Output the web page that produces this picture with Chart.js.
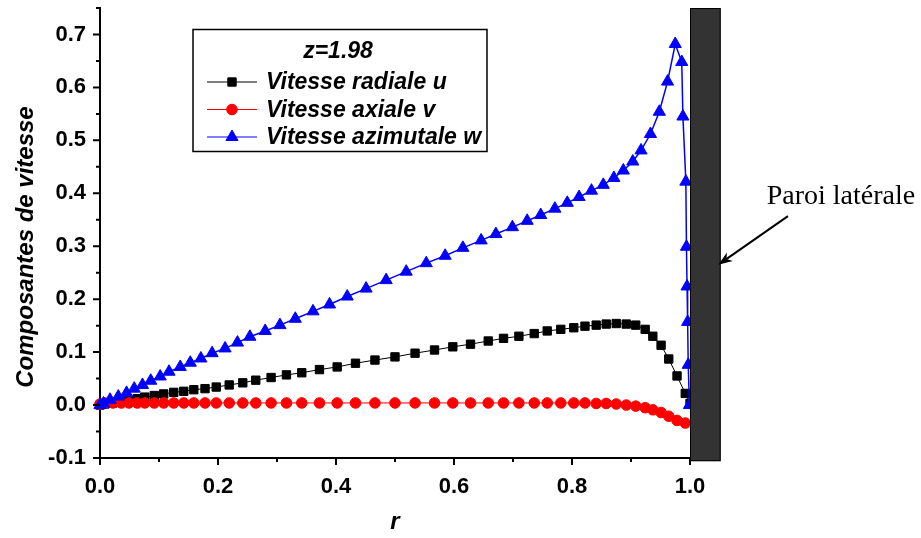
<!DOCTYPE html>
<html>
<head>
<meta charset="utf-8">
<title>Composantes de vitesse, z=1.98</title>
<script src="https://cdn.jsdelivr.net/npm/chart.js@4.4.0/dist/chart.umd.min.js"></script>
<style>
  html, body { margin: 0; padding: 0; background: #fff; }
</style>
</head>
<body>
<canvas id="velChart" width="921" height="538"></canvas>
<script>
// r grid shared by u and v
const rGrid = [0.000, 0.008, 0.022, 0.036, 0.049, 0.063, 0.076, 0.092, 0.108, 0.125,
  0.142, 0.159, 0.178, 0.197, 0.219, 0.242, 0.264, 0.290, 0.316, 0.342,
  0.372, 0.402, 0.433, 0.466, 0.500, 0.534, 0.567, 0.598, 0.628, 0.658,
  0.684, 0.710, 0.736, 0.758, 0.781, 0.803, 0.822, 0.841, 0.858, 0.875,
  0.892, 0.908, 0.924, 0.937, 0.951, 0.964, 0.978, 0.992, 1.000];

// Vitesse radiale u
const uVals = [0.000, 0.002, 0.004, 0.007, 0.009, 0.012, 0.015, 0.018, 0.021, 0.024,
  0.026, 0.029, 0.031, 0.034, 0.038, 0.042, 0.047, 0.052, 0.057, 0.061,
  0.067, 0.072, 0.079, 0.085, 0.091, 0.098, 0.104, 0.110, 0.115, 0.121,
  0.126, 0.130, 0.135, 0.140, 0.143, 0.146, 0.149, 0.151, 0.153, 0.154,
  0.153, 0.151, 0.143, 0.130, 0.113, 0.087, 0.055, 0.022, 0.003];

// Vitesse axiale v (no point at r = 1)
const vVals = [0.002, 0.004, 0.004, 0.004, 0.004, 0.004, 0.004, 0.004, 0.004, 0.004,
  0.004, 0.004, 0.004, 0.004, 0.004, 0.004, 0.004, 0.004, 0.004, 0.004,
  0.004, 0.004, 0.004, 0.004, 0.004, 0.004, 0.004, 0.004, 0.004, 0.004,
  0.004, 0.004, 0.004, 0.004, 0.004, 0.004, 0.004, 0.003, 0.003, 0.002,
  0.000, -0.002, -0.005, -0.009, -0.014, -0.021, -0.029, -0.034];

// Vitesse azimutale w has its own (staggered) r positions
const wR = [0.000, 0.006, 0.017, 0.031, 0.045, 0.058, 0.072, 0.086, 0.102, 0.117,
  0.136, 0.153, 0.171, 0.190, 0.212, 0.233, 0.254, 0.280, 0.305, 0.331,
  0.361, 0.389, 0.419, 0.451, 0.485, 0.519, 0.553, 0.585, 0.615, 0.646,
  0.671, 0.699, 0.724, 0.747, 0.771, 0.792, 0.812, 0.833, 0.853, 0.871,
  0.887, 0.903, 0.917, 0.933, 0.948, 0.962, 0.975, 0.986, 0.988, 0.993,
  0.994, 0.995, 0.996, 0.997, 0.999];
const wVals = [0.000, 0.003, 0.010, 0.016, 0.023, 0.031, 0.038, 0.046, 0.054, 0.063,
  0.072, 0.080, 0.088, 0.098, 0.107, 0.118, 0.129, 0.140, 0.151, 0.163,
  0.177, 0.190, 0.205, 0.220, 0.236, 0.252, 0.268, 0.282, 0.297, 0.311,
  0.323, 0.336, 0.348, 0.359, 0.371, 0.382, 0.393, 0.405, 0.416, 0.429,
  0.443, 0.460, 0.481, 0.512, 0.554, 0.611, 0.682, 0.648, 0.545, 0.422,
  0.299, 0.224, 0.157, 0.076, 0.000];

// Axis ticks
const xMajor = [0.0, 0.2, 0.4, 0.6, 0.8, 1.0];
const xMinor = [0.1, 0.3, 0.5, 0.7, 0.9];
const yMajor = [-0.1, 0.0, 0.1, 0.2, 0.3, 0.4, 0.5, 0.6, 0.7];
const yMinor = [-0.05, 0.05, 0.15, 0.25, 0.35, 0.45, 0.55, 0.65, 0.75];

// Side wall (r range, value range) and its annotation
const wallR = [1.0, 1.052];
const wallY = [-0.106, 0.75];
const arrowFrom = { x: 1.166, y: 0.357 };
const arrowTo = { x: 1.048, y: 0.265 };
const wallLabel = { x: 1.130, y: 0.380, text: 'Paroi latérale' };

const legendTitle = 'z=1.98';

const SANS = '"Liberation Sans", Arial, sans-serif';

function toXY(xs, ys) {
  return ys.map((y, i) => ({ x: xs[i], y: y }));
}

function drawMarker(ctx, style, x, y, r) {
  ctx.beginPath();
  if (style === 'rect') {
    const s = r * Math.SQRT1_2;
    ctx.rect(x - s, y - s, 2 * s, 2 * s);
  } else if (style === 'triangle') {
    ctx.moveTo(x, y - r);
    ctx.lineTo(x + r * Math.sin(2 * Math.PI / 3), y - r * Math.cos(2 * Math.PI / 3));
    ctx.lineTo(x + r * Math.sin(4 * Math.PI / 3), y - r * Math.cos(4 * Math.PI / 3));
    ctx.closePath();
  } else {
    ctx.arc(x, y, r, 0, Math.PI * 2);
  }
  ctx.fill();
  ctx.stroke();
}

// Ticks, titles, wall, arrow and legend box
const decorPlugin = {
  id: 'decor',
  afterDraw(chart) {
    const ctx = chart.ctx;
    const xs = chart.scales.x, ys = chart.scales.y;
    const area = chart.chartArea;

    ctx.save();
    ctx.strokeStyle = '#000';
    ctx.lineWidth = 2;
    ctx.beginPath();
    yMajor.forEach(v => { const p = ys.getPixelForValue(v); ctx.moveTo(area.left - 7, p); ctx.lineTo(area.left, p); });
    yMinor.forEach(v => { const p = ys.getPixelForValue(v); ctx.moveTo(area.left - 4, p); ctx.lineTo(area.left, p); });
    xMajor.forEach(v => { const p = xs.getPixelForValue(v); ctx.moveTo(p, area.bottom); ctx.lineTo(p, area.bottom + 7); });
    xMinor.forEach(v => { const p = xs.getPixelForValue(v); ctx.moveTo(p, area.bottom); ctx.lineTo(p, area.bottom + 4); });
    ctx.stroke();

    // axis titles
    ctx.fillStyle = '#000';
    ctx.textAlign = 'center';
    ctx.textBaseline = 'middle';
    ctx.font = 'italic bold 24px ' + SANS;
    ctx.fillText('r', (area.left + area.right) / 2, 522);
    ctx.save();
    ctx.translate(26, 247);
    ctx.rotate(-Math.PI / 2);
    ctx.fillText('Composantes de vitesse', 0, 0);
    ctx.restore();

    // wall
    const wx0 = xs.getPixelForValue(wallR[0]), wx1 = xs.getPixelForValue(wallR[1]);
    const wy0 = ys.getPixelForValue(wallY[1]), wy1 = ys.getPixelForValue(wallY[0]);
    ctx.fillStyle = '#333333';
    ctx.fillRect(wx0, wy0, wx1 - wx0, wy1 - wy0);
    ctx.lineWidth = 1;
    ctx.strokeRect(wx0 + 0.5, wy0 + 0.5, wx1 - wx0 - 1, wy1 - wy0 - 1);

    // arrow + label
    const ax0 = xs.getPixelForValue(arrowFrom.x), ay0 = ys.getPixelForValue(arrowFrom.y);
    const ax1 = xs.getPixelForValue(arrowTo.x), ay1 = ys.getPixelForValue(arrowTo.y);
    const ang = Math.atan2(ay1 - ay0, ax1 - ax0);
    ctx.strokeStyle = '#000';
    ctx.fillStyle = '#000';
    ctx.lineWidth = 2;
    ctx.beginPath();
    ctx.moveTo(ax0, ay0);
    ctx.lineTo(ax1 - 8 * Math.cos(ang), ay1 - 8 * Math.sin(ang));
    ctx.stroke();
    ctx.beginPath();
    ctx.moveTo(ax1, ay1);
    ctx.lineTo(ax1 - 15 * Math.cos(ang - 0.35), ay1 - 15 * Math.sin(ang - 0.35));
    ctx.lineTo(ax1 - 10 * Math.cos(ang), ay1 - 10 * Math.sin(ang));
    ctx.lineTo(ax1 - 15 * Math.cos(ang + 0.35), ay1 - 15 * Math.sin(ang + 0.35));
    ctx.closePath();
    ctx.fill();
    ctx.font = '28px "Liberation Serif", "Times New Roman", serif';
    ctx.textAlign = 'left';
    ctx.textBaseline = 'alphabetic';
    ctx.fillText(wallLabel.text, xs.getPixelForValue(wallLabel.x), ys.getPixelForValue(wallLabel.y));

    // legend box
    ctx.lineWidth = 1.5;
    ctx.strokeRect(193, 29.5, 294, 122);
    ctx.font = 'italic bold 23px ' + SANS;
    ctx.textAlign = 'center';
    ctx.textBaseline = 'middle';
    ctx.fillText(legendTitle, 338, 52);
    const rows = [chart.data.datasets[0], chart.data.datasets[1], chart.data.datasets[2]];
    rows.forEach((ds, i) => {
      const y = 82 + i * 27.5;
      ctx.strokeStyle = ds.borderColor;
      ctx.fillStyle = ds.backgroundColor;
      ctx.lineWidth = 1;
      ctx.beginPath();
      ctx.moveTo(207, y);
      ctx.lineTo(257, y);
      ctx.stroke();
      drawMarker(ctx, ds.pointStyle, 232, y, ds.pointRadius);
      ctx.fillStyle = '#000';
      ctx.textAlign = 'left';
      ctx.fillText(ds.label, 266, y + 1);
    });
    ctx.restore();
  }
};

const tickFont = { family: SANS, size: 22, weight: 'bold' };

new Chart(document.getElementById('velChart'), {
  type: 'scatter',
  data: {
    datasets: [
      {
        label: 'Vitesse radiale u',
        data: toXY(rGrid, uVals),
        showLine: true,
        borderColor: '#000000',
        backgroundColor: '#000000',
        borderWidth: 1,
        pointStyle: 'rect',
        pointRadius: 5.9,
        pointBorderWidth: 1,
        order: 2,
        clip: false
      },
      {
        label: 'Vitesse axiale v',
        data: toXY(rGrid, vVals),
        showLine: true,
        borderColor: '#ff0000',
        backgroundColor: '#ff0000',
        borderWidth: 1,
        pointStyle: 'circle',
        pointRadius: 5.3,
        pointBorderWidth: 1,
        order: 1,
        clip: false
      },
      {
        label: 'Vitesse azimutale w',
        data: toXY(wR, wVals),
        showLine: true,
        borderColor: '#0000ff',
        backgroundColor: '#0000ff',
        borderWidth: 1.5,
        pointStyle: 'triangle',
        pointRadius: 7,
        pointBorderWidth: 1,
        order: 0,
        clip: false
      }
    ]
  },
  options: {
    responsive: false,
    animation: false,
    layout: { padding: { left: 0, top: 8, right: 231, bottom: 0 } },
    plugins: {
      legend: { display: false },
      tooltip: { enabled: false }
    },
    scales: {
      x: {
        type: 'linear',
        min: 0,
        max: 1,
        grid: { display: false },
        border: { display: true, color: '#000', width: 2 },
        afterBuildTicks: s => { s.ticks = xMajor.map(v => ({ value: v })); },
        afterFit: s => { s.height = 80; s.paddingLeft = 0; s.paddingRight = 0; },
        ticks: {
          color: '#000',
          font: tickFont,
          padding: 8,
          maxRotation: 0,
          autoSkip: false,
          callback: v => v.toFixed(1)
        }
      },
      y: {
        type: 'linear',
        min: -0.1,
        max: 0.75,
        grid: { display: false },
        border: { display: true, color: '#000', width: 2 },
        afterBuildTicks: s => { s.ticks = yMajor.map(v => ({ value: v })); },
        afterFit: s => { s.width = 100; s.paddingTop = 0; s.paddingBottom = 0; },
        ticks: {
          color: '#000',
          font: tickFont,
          padding: 6,
          autoSkip: false,
          callback: v => v.toFixed(1)
        }
      }
    }
  },
  plugins: [decorPlugin]
});
</script>
</body>
</html>
